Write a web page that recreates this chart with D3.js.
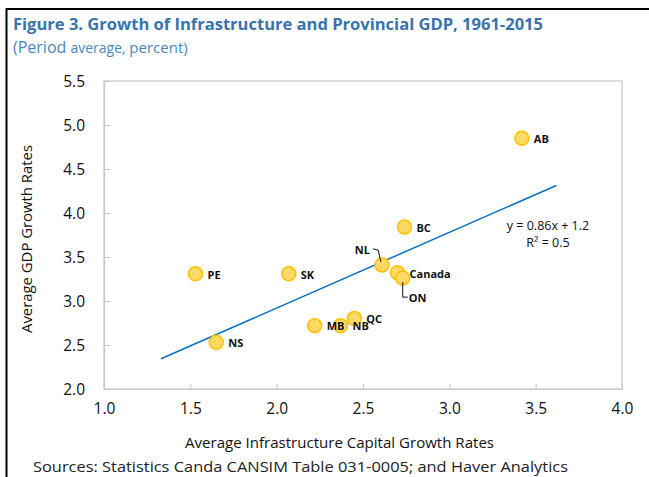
<!DOCTYPE html>
<html>
<head>
<meta charset="utf-8">
<script src="https://cdn.jsdelivr.net/npm/d3@7"></script>
<style>
  body { margin: 0; background: #fff; }
  text { font-family: "Open Sans", "Noto Sans", sans-serif; }
</style>
</head>
<body>
<script>
// Province / national averages, 1961-2015 (percent)
var regions = ["AB", "BC", "NL", "Canada", "ON", "QC", "NB", "MB", "PE", "SK", "NS"];
var infraGrowth = [3.42, 2.74, 2.61, 2.70, 2.73, 2.45, 2.37, 2.22, 1.53, 2.07, 1.65];
var gdpGrowth = [4.85, 3.84, 3.41, 3.32, 3.26, 2.80, 2.72, 2.72, 3.31, 3.31, 2.53];

var xTicks = [1.0, 1.5, 2.0, 2.5, 3.0, 3.5, 4.0];
var yTicks = [2.0, 2.5, 3.0, 3.5, 4.0, 4.5, 5.0, 5.5];

// Linear trend as shown on the chart
var trendSlope = 0.86;
var trendIntercept = 1.2;
var trendRange = [1.33, 3.62];
var trendLabel = ["y = 0.86x + 1.2", "R\u00b2 = 0.5"];

var width = 649, height = 477;

var svg = d3.select("body").append("svg")
    .attr("width", width)
    .attr("height", height);

// Black frame (cut off on right / bottom in the original)
svg.append("path")
    .attr("d", "M6.5,480 V9 H652")
    .attr("fill", "none")
    .attr("stroke", "#000")
    .attr("stroke-width", 2);

// Title
svg.append("text")
    .attr("x", 13)
    .attr("y", 30)
    .attr("fill", "#3873ad")
    .attr("font-size", 16)
    .attr("font-weight", "bold")
    .attr("textLength", 530)
    .attr("lengthAdjust", "spacingAndGlyphs")
    .text("Figure 3. Growth of Infrastructure and Provincial GDP, 1961-2015");

var sub = svg.append("text")
    .attr("x", 13)
    .attr("y", 53)
    .attr("fill", "#4a86c0");
sub.append("tspan").attr("font-size", 16).text("(Period ");
sub.append("tspan").attr("font-size", 14).text("average, ");
sub.append("tspan").attr("font-size", 15).text("percent)");

var x = d3.scaleLinear().domain([1, 4]).range([104, 622]);
var y = d3.scaleLinear().domain([2, 5.5]).range([389, 81]);

// Plot frame
svg.append("rect")
    .attr("x", x(1))
    .attr("y", y(5.5))
    .attr("width", x(4) - x(1))
    .attr("height", y(2) - y(5.5))
    .attr("fill", "none")
    .attr("stroke", "#c8c8c8")
    .attr("stroke-width", 1.2);

// Axes (ticks pointing inward)
var xAxis = svg.append("g")
    .attr("transform", "translate(0," + y(2) + ")")
    .call(d3.axisBottom(x).tickValues(xTicks).tickSizeInner(-5).tickSizeOuter(0)
        .tickFormat(d3.format(".1f")));
var yAxis = svg.append("g")
    .attr("transform", "translate(" + x(1) + ",0)")
    .call(d3.axisLeft(y).tickValues(yTicks).tickSizeInner(-6).tickSizeOuter(0)
        .tickFormat(d3.format(".1f")));

[xAxis, yAxis].forEach(function (g) {
    g.select(".domain").attr("stroke", "#c8c8c8").attr("stroke-width", 1.2);
    g.selectAll(".tick line").attr("stroke", "#c8c8c8");
    g.selectAll(".tick text")
        .attr("fill", "#111")
        .attr("font-size", 15.5)
        .attr("font-family", "'Open Sans', sans-serif");
});
xAxis.selectAll(".tick text").attr("y", 14).attr("dy", "0.71em");
yAxis.selectAll(".tick text").attr("x", -19).attr("dy", "0.35em");

// Axis titles
svg.append("text")
    .attr("x", 339.5)
    .attr("y", 448)
    .attr("text-anchor", "middle")
    .attr("font-size", 14.5)
    .attr("fill", "#111")
    .attr("textLength", 309)
    .attr("lengthAdjust", "spacingAndGlyphs")
    .text("Average Infrastructure Capital Growth Rates");

svg.append("text")
    .attr("transform", "translate(32,239) rotate(-90)")
    .attr("text-anchor", "middle")
    .attr("font-size", 14.5)
    .attr("fill", "#111")
    .attr("textLength", 188)
    .attr("lengthAdjust", "spacingAndGlyphs")
    .text("Average GDP Growth Rates");

// Trend line
svg.append("line")
    .attr("x1", x(trendRange[0]))
    .attr("y1", y(trendSlope * trendRange[0] + trendIntercept))
    .attr("x2", x(trendRange[1]))
    .attr("y2", y(trendSlope * trendRange[1] + trendIntercept))
    .attr("stroke", "#0a70c0")
    .attr("stroke-width", 1.5);

svg.selectAll(".eq")
    .data(trendLabel)
    .enter().append("text")
    .attr("x", 548)
    .attr("y", function (d, i) { return 230 + i * 17; })
    .attr("text-anchor", "middle")
    .attr("font-size", 12.5)
    .attr("fill", "#111")
    .text(function (d) { return d; });

// Points
var points = regions.map(function (r, i) {
    return { name: r, x: infraGrowth[i], y: gdpGrowth[i] };
});

svg.selectAll(".pt")
    .data(points)
    .enter().append("circle")
    .attr("cx", function (d) { return x(d.x); })
    .attr("cy", function (d) { return y(d.y); })
    .attr("r", 7)
    .attr("fill", "#ffd966")
    .attr("stroke", "#ffc000")
    .attr("stroke-width", 1.5);

// Labels; NL and ON are moved off their points with leader lines
var moved = {
    NL: { dx: -12, dy: -15, anchor: "end", leader: [[-9, -16], [-4, -15], [-1, -3]] },
    ON: { dx: 6, dy: 20, anchor: "start", leader: [[0, 4], [0, 19], [5, 19]] }
};

svg.selectAll(".lbl")
    .data(points)
    .enter().append("text")
    .attr("x", function (d) { return x(d.x) + (moved[d.name] ? moved[d.name].dx : 12); })
    .attr("y", function (d) { return y(d.y) + (moved[d.name] ? moved[d.name].dy : 1); })
    .attr("dy", "0.35em")
    .attr("text-anchor", function (d) { return moved[d.name] ? moved[d.name].anchor : "start"; })
    .attr("font-size", 11)
    .attr("font-weight", "bold")
    .attr("fill", "#111")
    .text(function (d) { return d.name; });

svg.selectAll(".leader")
    .data(points.filter(function (d) { return moved[d.name]; }))
    .enter().append("path")
    .attr("d", function (d) {
        var cx = x(d.x), cy = y(d.y);
        return d3.line()(moved[d.name].leader.map(function (p) { return [cx + p[0], cy + p[1]]; }));
    })
    .attr("fill", "none")
    .attr("stroke", "#111")
    .attr("stroke-width", 1);

// Source note (sits at the bottom edge)
svg.append("text")
    .attr("x", 33)
    .attr("y", 472)
    .attr("font-size", 15)
    .attr("fill", "#222")
    .attr("textLength", 535)
    .attr("lengthAdjust", "spacingAndGlyphs")
    .text("Sources: Statistics Canda CANSIM Table 031-0005; and Haver Analytics");
</script>
</body>
</html>
